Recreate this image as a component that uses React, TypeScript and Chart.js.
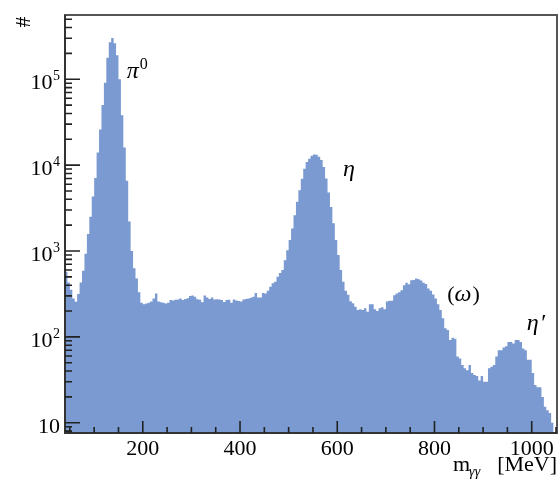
import React, { useEffect, useRef } from "react";
import { Chart, registerables } from "chart.js";

Chart.register(...registerables);

// ---- histogram definition (MeV) ----
const BIN_LOW_EDGE = 40;
const BIN_WIDTH = 5;

// entries per 5 MeV bin (log scale)
const COUNTS = [
  575, 430, 355, 280, 257, 316, 430, 590, 930, 1580,
  2500, 4300, 7100, 14000, 26000, 50000, 91000, 178000, 270000, 302000,
  263000, 190000, 100000, 38000, 16000, 6600, 2200, 1000, 630, 480,
  330, 250, 240, 245, 249, 258, 280, 321, 258, 253,
  250, 245, 249, 268, 265, 270, 273, 280, 268, 277,
  282, 300, 303, 293, 275, 270, 253, 303, 288, 277,
  288, 273, 275, 273, 268, 255, 268, 270, 249, 273,
  265, 261, 258, 273, 277, 280, 285, 293, 325, 288,
  288, 325, 321, 345, 383, 420, 440, 500, 555, 600,
  780, 1020, 1340, 1830, 2600, 3750, 5100, 6950, 9100, 10900,
  11900, 12900, 13300, 13200, 12500, 11500, 9500, 7000, 4800, 3250,
  2100, 1340, 900, 600, 440, 345, 310, 260, 246, 225,
  205, 210, 205, 215, 196, 240, 240, 210, 200, 215,
  222, 210, 258, 263, 263, 305, 320, 330, 350, 400,
  427, 410, 457, 460, 480, 470, 455, 427, 412, 365,
  345, 312, 280, 240, 205, 165, 126, 120, 92, 98,
  95, 59, 56, 47, 43, 41, 47, 38, 36, 35,
  31, 35, 30, 30, 43, 45, 47, 59, 70, 70,
  75, 78, 87, 87, 84, 92, 92, 87, 73, 70,
  54, 54, 38, 27.5, 26, 26, 20, 15.4, 14, 13,
  10,
];

// ---- axes ----
const X_MIN = 40;
const X_MAX = 1052;
const Y_MIN = 7.6;
const Y_MAX = 5.6e5;
const X_MAJOR_TICKS = [200, 400, 600, 800, 1000];
const X_MINOR_TICKS = [50, 100, 150, 250, 300, 350, 450, 500, 550, 650, 700, 750, 850, 900, 950, 1050];
const Y_DECADES = [10, 100, 1000, 10000, 100000];
const Y_EXPONENTS = ["", "2", "3", "4", "5"];
const Y_MINOR_MULTIPLIERS = [2, 3, 4, 5, 6, 7, 8, 9];
const X_TITLE_MAIN = "m";
const X_TITLE_SUB = "γγ";
const X_TITLE_UNIT = "[MeV]";
const Y_TITLE = "#";

// peak annotations, anchored in data coordinates (MeV, entries)
const PEAK_LABELS = [
  { pre: "", text: "π", sup: "0", post: "", m: 167, n: 1.03e5 },
  { pre: "", text: "η", sup: "", post: "", m: 612, n: 7400 },
  { pre: "(", text: "ω", sup: "", post: ")", m: 826, n: 262 },
  { pre: "", text: "η", sup: "", post: "′", m: 990, n: 120 },
];

const FILL = "rgb(122,154,209)";
const SERIF = '"Liberation Serif", "Times New Roman", serif';

const rootStyle = {
  id: "rootStyle",
  afterDraw(chart: any) {
    const { ctx, chartArea: a, scales } = chart;
    const xs = scales.x;
    const ys = scales.y;
    ctx.save();

    // frame
    ctx.strokeStyle = "#555";
    ctx.lineWidth = 2;
    ctx.strokeRect(a.left, a.top, a.right - a.left, a.bottom - a.top);
    ctx.strokeStyle = "#333";
    ctx.beginPath();
    ctx.moveTo(a.left, a.top);
    ctx.lineTo(a.left, a.bottom);
    ctx.lineTo(a.right, a.bottom);
    ctx.stroke();

    // ticks
    ctx.strokeStyle = "#222";
    ctx.lineWidth = 1.6;
    ctx.beginPath();
    for (const d of [1, ...Y_DECADES]) {
      for (const k of Y_MINOR_MULTIPLIERS) {
        const v = k * d;
        if (v < Y_MIN || v > Y_MAX) continue;
        const y = ys.getPixelForValue(v);
        ctx.moveTo(a.left, y);
        ctx.lineTo(a.left + 7, y);
      }
    }
    for (const v of Y_DECADES) {
      const y = ys.getPixelForValue(v);
      ctx.moveTo(a.left, y);
      ctx.lineTo(a.left + 15, y);
    }
    for (const v of X_MINOR_TICKS) {
      const x = xs.getPixelForValue(v);
      ctx.moveTo(x, a.bottom);
      ctx.lineTo(x, a.bottom - 6);
    }
    for (const v of X_MAJOR_TICKS) {
      const x = xs.getPixelForValue(v);
      ctx.moveTo(x, a.bottom);
      ctx.lineTo(x, a.bottom - 12);
    }
    ctx.stroke();

    // y tick labels with exponents
    ctx.fillStyle = "#000";
    ctx.textBaseline = "alphabetic";
    ctx.textAlign = "right";
    const labelRight = a.left - 5;
    Y_DECADES.forEach((v, i) => {
      const y = ys.getPixelForValue(v);
      const exp = Y_EXPONENTS[i];
      let right = labelRight;
      if (exp) {
        ctx.font = `14px ${SERIF}`;
        ctx.fillText(exp, right, y + 1);
        right -= ctx.measureText(exp).width + 0.5;
      }
      ctx.font = `22px ${SERIF}`;
      ctx.fillText("10", right, y + 10);
    });

    // y title
    ctx.save();
    ctx.translate(24, 22);
    ctx.rotate(-Math.PI / 2);
    ctx.textAlign = "center";
    ctx.textBaseline = "middle";
    ctx.font = `22px ${SERIF}`;
    ctx.fillText(Y_TITLE, 0, 0);
    ctx.restore();

    // x title
    ctx.textAlign = "left";
    ctx.font = `22px ${SERIF}`;
    const unitW = ctx.measureText(X_TITLE_UNIT).width;
    ctx.fillText(X_TITLE_UNIT, a.right - unitW, a.bottom + 38);
    const mLeft = a.right - 104;
    ctx.fillText(X_TITLE_MAIN, mLeft, a.bottom + 38);
    const mW = ctx.measureText(X_TITLE_MAIN).width;
    ctx.font = `italic 14px ${SERIF}`;
    ctx.fillText(X_TITLE_SUB, mLeft + mW - 1, a.bottom + 43);

    // peak labels
    for (const p of PEAK_LABELS) {
      let x = xs.getPixelForValue(p.m);
      const y = ys.getPixelForValue(p.n);
      if (p.pre) {
        ctx.font = `22px ${SERIF}`;
        ctx.fillText(p.pre, x, y);
        x += ctx.measureText(p.pre).width;
      }
      ctx.font = `italic 24px ${SERIF}`;
      ctx.fillText(p.text, x, y);
      x += ctx.measureText(p.text).width;
      if (p.sup) {
        ctx.font = `16px ${SERIF}`;
        ctx.fillText(p.sup, x + 1, y - 9);
        x += ctx.measureText(p.sup).width + 1;
      }
      if (p.post) {
        ctx.font = p.post === ")" ? `22px ${SERIF}` : `italic 24px ${SERIF}`;
        ctx.fillText(p.post, x + 1, y);
      }
    }
    ctx.restore();
  },
};

export default function App() {
  const canvasRef = useRef<HTMLCanvasElement | null>(null);

  useEffect(() => {
    if (!canvasRef.current) return;
    const points = COUNTS.map((c, i) => ({ x: BIN_LOW_EDGE + i * BIN_WIDTH, y: c }));
    points.push({ x: BIN_LOW_EDGE + COUNTS.length * BIN_WIDTH, y: COUNTS[COUNTS.length - 1] });

    const chart = new Chart(canvasRef.current, {
      type: "line",
      data: {
        datasets: [
          {
            data: points,
            stepped: true,
            fill: "start",
            backgroundColor: FILL,
            borderColor: "rgba(0,0,0,0)",
            borderWidth: 0,
            pointRadius: 0,
            pointHoverRadius: 0,
          },
        ],
      },
      options: {
        responsive: false,
        devicePixelRatio: 1,
        animation: false,
        events: [],
        layout: { padding: { top: 15, right: 3, left: 0, bottom: 0 } },
        plugins: { legend: { display: false }, tooltip: { enabled: false } },
        scales: {
          x: {
            type: "linear",
            min: X_MIN,
            max: X_MAX,
            afterBuildTicks: (s: any) => {
              s.ticks = X_MAJOR_TICKS.map((v) => ({ value: v }));
            },
            ticks: {
              callback: (v: any) => String(v),
              font: { family: SERIF, size: 22 },
              color: "#000",
              padding: 3,
              maxRotation: 0,
              autoSkip: false,
            },
            grid: { display: false, drawTicks: false },
            border: { display: false },
            afterFit: (s: any) => {
              s.height = 48;
            },
          },
          y: {
            type: "logarithmic",
            min: Y_MIN,
            max: Y_MAX,
            ticks: { display: false },
            grid: { display: false, drawTicks: false },
            border: { display: false },
            afterFit: (s: any) => {
              s.width = 65;
            },
          },
        },
      },
      plugins: [rootStyle],
    });
    return () => chart.destroy();
  }, []);

  return (
    <div style={{ position: "absolute", left: 0, top: 0, width: 560, height: 481, background: "#fff" }}>
      <canvas ref={canvasRef} width={560} height={481} style={{ display: "block" }} />
    </div>
  );
}
